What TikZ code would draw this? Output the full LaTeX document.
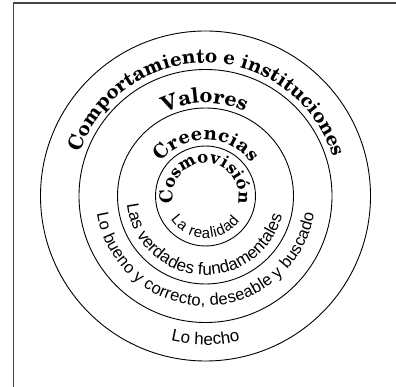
\documentclass[tikz,border=0pt]{standalone}
\usepackage{fontspec}
\setmainfont{TeX Gyre Schola}
\newfontfamily\sansf{Liberation Sans}
\usetikzlibrary{decorations.text}
\definecolor{framec}{RGB}{70,70,70}
\tikzset{
  ring/.style={draw=black, line width=0.9pt},
  curved/.style={decorate, decoration={text along path, text align={fit to path}, text={#1}}},
  curvedc/.style={decorate, decoration={text along path, text align={center}, text={#1}}}
}
\begin{document}
\begin{tikzpicture}[x=1pt,y=1pt]
\useasboundingbox (0,0) rectangle (396,387);
\coordinate (c) at (205.5,191);
\draw[framec, line width=1.3pt] (13.5,0) -- (13.5,384) -- (396,384);
\draw[ring] (c) circle[radius=165];
\draw[ring] (c) circle[radius=126.5];
\draw[ring] (c) circle[radius=88];
\draw[ring] (c) circle[radius=50];
% top texts (bold serif)
\path[curved={|\bfseries\fontsize{20}{20}\selectfont|Comportamiento e instituciones}]
  ([shift={(161:133)}]c) arc[start angle=161, end angle=17, radius=133];
\path[curved={|\bfseries\fontsize{21}{21}\selectfont|Valores}]
  ([shift={(116:93)}]c) arc[start angle=116, end angle=65, radius=93];
\path[curved={|\bfseries\fontsize{19.5}{19.5}\selectfont|Creencias}]
  ([shift={(143:56)}]c) arc[start angle=143, end angle=36, radius=56];
\path[curved={|\bfseries\fontsize{18}{18}\selectfont|Cosmovisión}]
  ([shift={(193:33)}]c) arc[start angle=193, end angle=-13, radius=33];
% bottom texts (sans)
\path[curved={|\sansf\fontsize{15}{15}\selectfont|La realidad}]
  ([shift={(214:42)}]c) arc[start angle=214, end angle=324, radius=42];
\path[curved={|\sansf\fontsize{17}{17}\selectfont|Las verdades fundamentales}]
  ([shift={(186:79)}]c) arc[start angle=186, end angle=346, radius=79];
\path[curved={|\sansf\fontsize{16.5}{16.5}\selectfont|Lo bueno y correcto, deseable y buscado}]
  ([shift={(189:110)}]c) arc[start angle=189, end angle=351, radius=110];
\path[curvedc={|\sansf\fontsize{17}{17}\selectfont|Lo hecho}]
  ([shift={(230:149)}]c) arc[start angle=230, end angle=310, radius=149];
\end{tikzpicture}
\end{document}
